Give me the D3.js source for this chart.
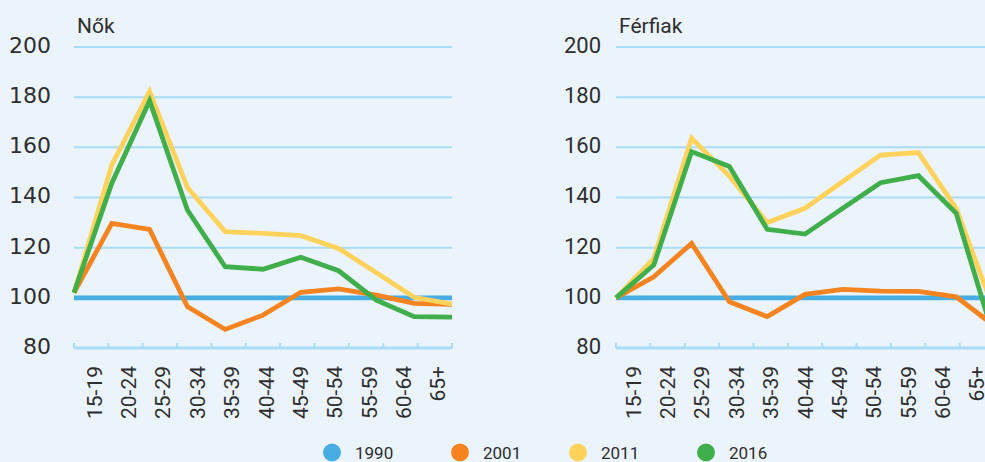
<!DOCTYPE html>
<html>
<head>
<meta charset="utf-8">
<script src="https://cdn.jsdelivr.net/npm/d3@7"></script>
<style>
  body { margin: 0; background: #ebf4fc; }
  svg { display: block; }
</style>
</head>
<body>
<div id="chart"></div>
<script>
const ageGroups = ["15-19", "20-24", "25-29", "30-34", "35-39", "40-44", "45-49", "50-54", "55-59", "60-64", "65+"];
const years = ["1990", "2001", "2011", "2016"];
const yearColors = ["#47ade3", "#f58420", "#ffd25c", "#40ae4a"];
const yTicks = [80, 100, 120, 140, 160, 180, 200];

// Nők
const nok1990 = [100, 100, 100, 100, 100, 100, 100, 100, 100, 100, 100];
const nok2001 = [102, 129.7, 127.3, 96.5, 87.4, 93.1, 102.2, 103.6, 101.1, 97.8, 97.4];
const nok2011 = [102, 153, 182.2, 144, 126.4, 125.7, 124.8, 119.7, 110, 100.2, 97.5];
const nok2016 = [102, 145.7, 178.6, 135, 112.4, 111.4, 116.2, 110.8, 99.1, 92.5, 92.3];

// Férfiak
const ferfi1990 = [100, 100, 100, 100, 100, 100, 100, 100, 100, 100, 100];
const ferfi2001 = [100, 108.4, 121.7, 98.4, 92.5, 101.4, 103.4, 102.7, 102.6, 100.4, 89];
const ferfi2011 = [100, 115.7, 163.6, 148.5, 130, 135.7, 146.4, 156.9, 157.9, 135.7, 95];
const ferfi2016 = [100, 113.1, 158.3, 152.4, 127.3, 125.4, 135.7, 145.9, 148.7, 133.7, 84];

const width = 985, height = 462;
const gridColor = "#a9dcf5";
const textColor = "#2e2e2e";

const svg = d3.select("#chart").append("svg")
    .attr("width", width)
    .attr("height", height);

svg.append("rect").attr("width", width).attr("height", height).attr("fill", "#ebf4fc");

const y = d3.scaleLinear().domain([80, 200]).range([348, 47]);

function drawPanel(title, series, x0, yFont, yGap, labelShift) {
    const x1 = x0 + 378;
    const xPoint = d3.scalePoint().domain(ageGroups).range([x0, x1]);
    const xBand = d3.scaleBand().domain(ageGroups).range([x0, x1]).padding(0);

    const g = svg.append("g");

    // grid lines
    g.selectAll(".grid")
        .data(yTicks.filter(d => d > 80))
        .enter().append("line")
        .attr("x1", x0).attr("x2", x1)
        .attr("y1", d => y(d)).attr("y2", d => y(d))
        .attr("stroke", gridColor)
        .attr("stroke-width", 2);

    // bottom axis with inward ticks at band edges
    g.append("line")
        .attr("x1", x0).attr("x2", x1)
        .attr("y1", y(80)).attr("y2", y(80))
        .attr("stroke", gridColor)
        .attr("stroke-width", 3);
    const edges = ageGroups.map(d => xBand(d)).concat([x1]);
    g.selectAll(".tick")
        .data(edges)
        .enter().append("line")
        .attr("x1", d => d).attr("x2", d => d)
        .attr("y1", y(80)).attr("y2", y(80) - 5)
        .attr("stroke", gridColor)
        .attr("stroke-width", 2);

    // y labels
    g.selectAll(".ylab")
        .data(yTicks)
        .enter().append("text")
        .attr("x", x0 - yGap)
        .attr("y", d => y(d) - 2)
        .attr("dy", "0.36em")
        .attr("text-anchor", "end")
        .style("font-family", yFont)
        .style("font-size", "22px")
        .attr("fill", textColor)
        .text(d => d);

    // x labels, rotated
    g.selectAll(".xlab")
        .data(ageGroups)
        .enter().append("text")
        .attr("transform", d => `translate(${xBand(d) + xBand.bandwidth() / 2 + labelShift},${y(80) + 18}) rotate(-90)`)
        .attr("dy", "0.36em")
        .attr("text-anchor", "end")
        .style("font-family", "Roboto")
        .style("font-size", "21px")
        .attr("fill", textColor)
        .text(d => d);

    // title
    g.append("text")
        .attr("x", x0 + 3)
        .attr("y", 33)
        .style("font-family", "Roboto")
        .style("font-size", "21px")
        .attr("fill", textColor)
        .text(title);

    const line = d3.line()
        .x((d, i) => xPoint(ageGroups[i]))
        .y(d => y(d));

    series.forEach((vals, i) => {
        g.append("path")
            .datum(vals)
            .attr("d", line)
            .attr("fill", "none")
            .attr("stroke", yearColors[i])
            .attr("stroke-width", 4.8)
            .attr("stroke-linejoin", "miter");
    });
}

drawPanel("Nők", [nok1990, nok2001, nok2011, nok2016], 74, "DejaVu Sans", 23, 3);
drawPanel("Férfiak", [ferfi1990, ferfi2001, ferfi2011, ferfi2016], 616, "Roboto", 15, 0);

// legend
const legendX = [332, 460, 578, 706];
const legend = svg.selectAll(".legend")
    .data(years)
    .enter().append("g")
    .attr("transform", (d, i) => `translate(${legendX[i]},452.5)`);
legend.append("circle")
    .attr("r", 9)
    .attr("fill", (d, i) => yearColors[i]);
legend.append("text")
    .attr("x", 23)
    .attr("dy", "0.36em")
    .style("font-family", "Roboto")
    .style("font-size", "17px")
    .attr("fill", textColor)
    .text(d => d);
</script>
</body>
</html>
